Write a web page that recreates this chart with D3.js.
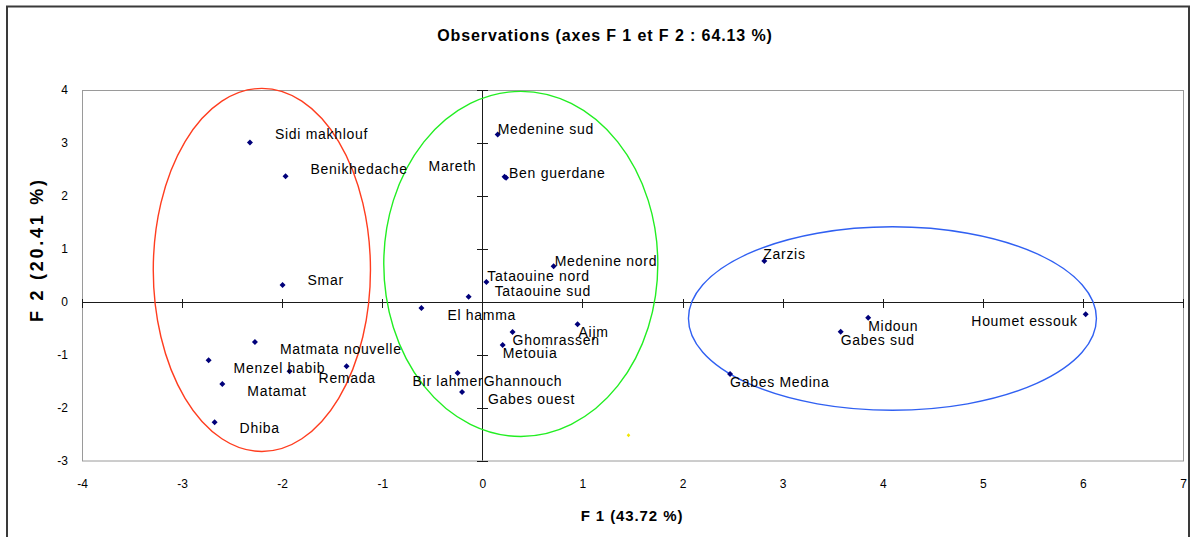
<!DOCTYPE html>
<html>
<head>
<meta charset="utf-8">
<script src="https://d3js.org/d3.v7.min.js"></script>
<style>
  body { margin: 0; background: #fff; }
  svg { display: block; font-family: "Liberation Sans", Arial, sans-serif; }
</style>
</head>
<body>
<svg id="chart" width="1195" height="537"></svg>
<script>
// ---------------------------------------------------------------------------
// DATA ----------------------------------------------------------------------
// ---------------------------------------------------------------------------

// Observations (delegations) and their coordinates on F1 / F2
var communes = ["Sidi makhlouf", "Benikhedache", "Mareth", "Smar", "Matmata nouvelle",
  "Menzel habib", "Remada", "Bir lahmer", "Matamat", "Dhiba", "El hamma", "Tataouine sud",
  "Tataouine nord", "Medenine sud", "Ben guerdane", "Medenine nord", "Aijm", "Ghomrassen",
  "Metouia", "Ghannouch", "Gabes ouest", "Zarzis", "Midoun", "Gabes sud", "Houmet essouk",
  "Gabes Medina"];
var f1 = [-2.322, -1.966, 0.222, -1.996, -2.272,
  -2.735, -1.926, -1.357, -2.598, -2.675, -0.609, -0.137,
  0.040, 0.153, 0.237, 0.712, 0.951, 0.302,
  0.203, -0.247, -0.203, 2.817, 3.855, 3.580, 6.028,
  2.475];
var f2 = [3.010, 2.370, 2.362, 0.316, -0.763,
  -1.104, -1.313, -1.218, -1.553, -2.278, -0.119, 0.095,
  0.373, 3.157, 2.343, 0.670, -0.428, -0.574,
  -0.820, -1.345, -1.705, 0.771, -0.303, -0.568, -0.239,
  -1.364];

// stray yellow point near the bottom
var strayF1 = [1.46];
var strayF2 = [-2.525];

// Group ellipses (centre and half-axes, in axis units)
var groupF1 = [-2.203, 0.384, 4.097];
var groupF2 = [0.600, 0.714, -0.318];
var groupRx = [1.085, 1.369, 2.038];
var groupRy = [3.430, 3.260, 1.733];

// Axis ticks
var xTickValues = [-4, -3, -2, -1, 0, 1, 2, 3, 4, 5, 6, 7];
var yTickValues = [-3, -2, -1, 0, 1, 2, 3, 4];

// ---------------------------------------------------------------------------
// LAYOUT / STYLE -------------------------------------------------------------
// ---------------------------------------------------------------------------

var groupColors = ["#ff3d1f", "#22ee22", "#3060f2"];

// label nudges in px from the point: [dx, dy to text centre]
var labelNudge = {
  "Sidi makhlouf": [25, -8], "Benikhedache": [25, -7], "Mareth": [-76, -11],
  "Smar": [25, -5], "Matmata nouvelle": [25, 7], "Menzel habib": [25, 8],
  "Remada": [29, 7], "Bir lahmer": [66, 15], "Matamat": [25, 7], "Dhiba": [25, 6],
  "El hamma": [26, 7], "Tataouine sud": [26, -6], "Tataouine nord": [1, -6],
  "Medenine sud": [0, -6], "Ben guerdane": [3, -5], "Medenine nord": [1, -5],
  "Aijm": [1, 8], "Ghomrassen": [0, 8], "Metouia": [0, 8], "Ghannouch": [26, 8],
  "Gabes ouest": [26, 7], "Zarzis": [-1, -7], "Midoun": [0, 8], "Gabes sud": [0, 8],
  "Houmet essouk": [-8, 7], "Gabes Medina": [0, 8]
};

var svg = d3.select("#chart");

var x = d3.scaleLinear().domain([-4, 7]).range([82, 1183]);
var y = d3.scaleLinear().domain([-3, 4]).range([460.5, 90]);

// Outer frame
svg.append("rect")
  .attr("x", 7).attr("y", 6.5)
  .attr("width", 1182).attr("height", 560)
  .attr("fill", "none")
  .attr("stroke", "#3a3a3a")
  .attr("stroke-width", 2);

// Title
svg.append("text")
  .attr("x", 605).attr("y", 41)
  .attr("text-anchor", "middle")
  .style("font-size", "16px")
  .style("font-weight", "bold")
  .style("letter-spacing", "0.9px")
  .text("Observations (axes F 1 et F 2 : 64.13 %)");

// Plot area border
svg.append("rect")
  .attr("x", x(-4) + 0.5).attr("y", y(4) + 0.5)
  .attr("width", x(7) - x(-4)).attr("height", y(-3) - y(4))
  .attr("fill", "none")
  .attr("stroke", "#9a9a9a")
  .attr("stroke-width", 1);

// Tick labels (axes at the frame edges, no lines)
var xAxis = svg.append("g")
  .attr("transform", "translate(0," + y(-3) + ")")
  .call(d3.axisBottom(x).tickValues(xTickValues).tickSize(0).tickPadding(19)
    .tickFormat(function(d) { return String(d); }));
xAxis.select(".domain").remove();
xAxis.selectAll("text").style("font-size", "12px").attr("fill", "#000")
  .style("font-family", "'Liberation Sans', Arial, sans-serif");

var yAxis = svg.append("g")
  .attr("transform", "translate(" + x(-4) + ",0)")
  .call(d3.axisLeft(y).tickValues(yTickValues).tickSize(0).tickPadding(14)
    .tickFormat(function(d) { return String(d); }));
yAxis.select(".domain").remove();
yAxis.selectAll("text").style("font-size", "12px").attr("fill", "#000")
  .style("font-family", "'Liberation Sans', Arial, sans-serif");

// Axis titles
svg.append("text")
  .attr("x", 632).attr("y", 521)
  .attr("text-anchor", "middle")
  .style("font-size", "15px")
  .style("font-weight", "bold")
  .style("letter-spacing", "0.9px")
  .text("F 1 (43.72 %)");

svg.append("text")
  .attr("transform", "translate(43,251) rotate(-90)")
  .attr("text-anchor", "middle")
  .attr("textLength", 142)
  .attr("lengthAdjust", "spacing")
  .style("font-size", "18px")
  .style("font-weight", "bold")
  .text("F 2 (20.41 %)");

// Zero axes with cross ticks
var axes = svg.append("g").attr("stroke", "#1a1a1a").attr("stroke-width", 1);
axes.append("line")
  .attr("x1", x(-4)).attr("x2", x(7))
  .attr("y1", Math.round(y(0)) + 0.5).attr("y2", Math.round(y(0)) + 0.5);
axes.append("line")
  .attr("x1", Math.round(x(0)) + 0.5).attr("x2", Math.round(x(0)) + 0.5)
  .attr("y1", y(4)).attr("y2", y(-3));
axes.selectAll(".xt").data(xTickValues).enter().append("line")
  .attr("class", "xt")
  .attr("x1", function(d) { return Math.round(x(d)) + 0.5; })
  .attr("x2", function(d) { return Math.round(x(d)) + 0.5; })
  .attr("y1", Math.round(y(0)) - 3).attr("y2", Math.round(y(0)) + 6);
axes.selectAll(".yt").data(yTickValues).enter().append("line")
  .attr("class", "yt")
  .attr("x1", Math.round(x(0)) - 5).attr("x2", Math.round(x(0)) + 6)
  .attr("y1", function(d) { return Math.round(y(d)) + 0.5; })
  .attr("y2", function(d) { return Math.round(y(d)) + 0.5; });

// Group ellipses
svg.selectAll(".grp").data(groupF1).enter().append("ellipse")
  .attr("class", "grp")
  .attr("cx", function(d) { return x(d); })
  .attr("cy", function(d, i) { return y(groupF2[i]); })
  .attr("rx", function(d, i) { return x(d + groupRx[i]) - x(d); })
  .attr("ry", function(d, i) { return y(groupF2[i] - groupRy[i]) - y(groupF2[i]); })
  .attr("fill", "none")
  .attr("stroke", function(d, i) { return groupColors[i]; })
  .attr("stroke-width", 1.4);

// Observation points
var diamond = "M0,-3L3,0L0,3L-3,0Z";
svg.selectAll(".pt").data(communes).enter().append("path")
  .attr("class", "pt")
  .attr("d", diamond)
  .attr("transform", function(d, i) { return "translate(" + x(f1[i]) + "," + y(f2[i]) + ")"; })
  .attr("fill", "#00007a");

svg.selectAll(".stray").data(strayF1).enter().append("path")
  .attr("class", "stray")
  .attr("d", "M0,-2L1.8,0L0,2L-1.8,0Z")
  .attr("transform", function(d, i) { return "translate(" + x(d) + "," + y(strayF2[i]) + ")"; })
  .attr("fill", "#f2e600");

// Labels
svg.selectAll(".lbl").data(communes).enter().append("text")
  .attr("class", "lbl")
  .attr("x", function(d, i) { return x(f1[i]) + labelNudge[d][0]; })
  .attr("y", function(d, i) { return y(f2[i]) + labelNudge[d][1] + 5; })
  .attr("text-anchor", function(d) { return d == "Houmet essouk" ? "end" : "start"; })
  .style("font-size", "14px")
  .style("letter-spacing", "0.7px")
  .attr("fill", "#000")
  .text(function(d) { return d; });
</script>
</body>
</html>
